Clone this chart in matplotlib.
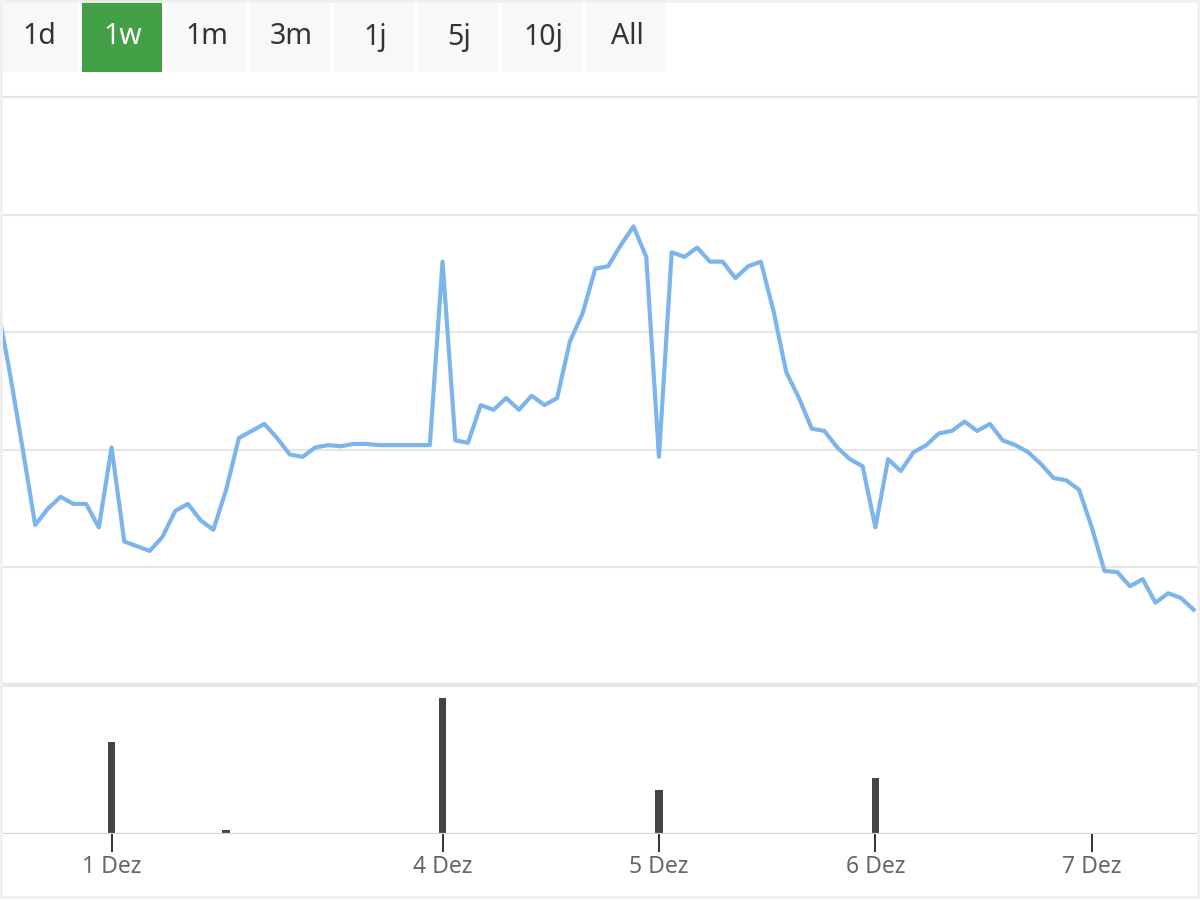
import matplotlib.pyplot as plt
from matplotlib.patches import Rectangle

plt.rcParams['font.family'] = ['Noto Sans', 'DejaVu Sans']

# Kurs (halbstuendlich, ordinale Achse)
price = [11.12, 10.83, 10.51, 10.18, 10.25, 10.30, 10.27, 10.27, 10.17, 10.51,
         10.11, 10.09, 10.07, 10.13, 10.24, 10.27, 10.20, 10.16, 10.33, 10.55,
         10.58, 10.61, 10.55, 10.48, 10.47, 10.51, 10.52, 10.515, 10.525, 10.525,
         10.52, 10.52, 10.52, 10.52, 10.52, 11.30, 10.54, 10.53, 10.69, 10.67,
         10.72, 10.67, 10.73, 10.69, 10.72, 10.96, 11.08, 11.27, 11.28, 11.37,
         11.45, 11.32, 10.47, 11.34, 11.32, 11.36, 11.30, 11.30, 11.23, 11.28,
         11.30, 11.09, 10.83, 10.72, 10.59, 10.58, 10.51, 10.46, 10.43, 10.17,
         10.46, 10.41, 10.49, 10.52, 10.57, 10.58, 10.62, 10.58, 10.61, 10.54,
         10.52, 10.49, 10.44, 10.38, 10.37, 10.33, 10.17, 9.985, 9.98, 9.92,
         9.95, 9.85, 9.89, 9.87, 9.82]

# Umsatz
vol_idx = [9, 18, 35, 52, 69]
volume = [920, 40, 1360, 440, 560]

tick_idx = [9, 35, 52, 69, 86]
tick_labels = ["1 Dez", "4 Dez", "5 Dez", "6 Dez", "7 Dez"]

buttons = ["1d", "1w", "1m", "3m", "1j", "5j", "10j", "All"]
active = "1w"

W, H = 1200, 900
fig = plt.figure(figsize=(12, 9), dpi=100)
fig.patch.set_facecolor("white")

x = list(range(len(price)))
xlim = (0.236, 94.5)

# Kurs-Pane
ax = fig.add_axes([0, 1 - 685 / H, 1, (685 - 97) / H])
ax.plot(x, price, color="#7cb5ec", lw=3.0, solid_joinstyle="round", zorder=3)
ax.set_xlim(*xlim)
ax.set_ylim(9.5, 12.0)
ax.set_yticks([10.0, 10.5, 11.0, 11.5, 12.0])
ax.grid(axis="y", color="#e6e6e6", lw=1.5)
ax.set_xticks([])
ax.tick_params(axis="y", length=0, labelleft=False)
for s in ax.spines.values():
    s.set_visible(False)
ax.axhline(9.5, color="#e6e6e6", lw=3, clip_on=False)
ax.axhline(12.0, color="#e6e6e6", lw=1.5, clip_on=False)
ax.set_facecolor("none")

# Umsatz-Pane
vax = fig.add_axes([0, 1 - 834 / H, 1, (834 - 688) / H])
vax.bar(vol_idx, volume, width=0.6, color="#434348", zorder=3)
vax.set_xlim(*xlim)
vax.set_ylim(0, 1460)
vax.set_yticks([])
for s in vax.spines.values():
    s.set_visible(False)
vax.axhline(0, color="#ccd6eb", lw=1.6, zorder=4)
vax.set_xticks(tick_idx)
vax.set_xticklabels(tick_labels, fontsize=16.5, color="#666666")
vax.tick_params(axis="x", length=13, width=1.4, color="#333333", pad=2)
vax.set_facecolor("none")

# Zeitraum-Buttons
for k, b in enumerate(buttons):
    x0 = 84 * k - 2
    on = b == active
    fig.add_artist(Rectangle((x0 / W, 1 - 72 / H), 80 / W, 72 / H,
                             transform=fig.transFigure,
                             facecolor="#43a047" if on else "#f7f8fa",
                             edgecolor="none"))
    fig.text((x0 + 41) / W, 1 - 37 / H, b, ha="center", va="center",
             fontsize=20.5, color="white" if on else "#333333",
             weight="medium" if on else "normal")

# Rahmen
fig.add_artist(Rectangle((0.001, 0.003), 0.997, 0.996, transform=fig.transFigure,
                         facecolor="none", edgecolor="#f0f0f0", lw=2))

fig.savefig("out.png", dpi=100)
